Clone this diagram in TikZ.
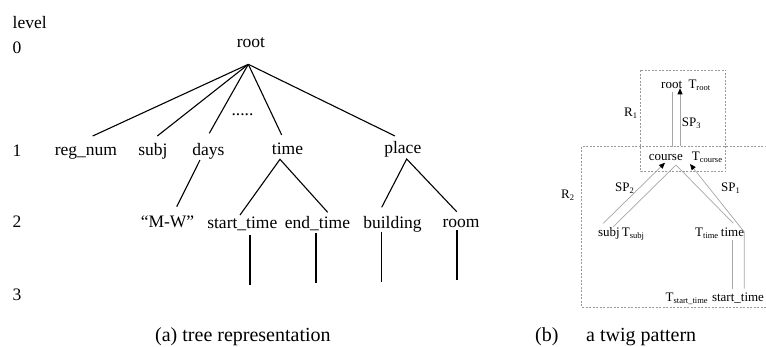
\documentclass[tikz,border=0pt]{standalone}
\usepackage{fontspec}
\setmainfont{Liberation Serif}
\usetikzlibrary{arrows.meta}
\newcommand{\sbs}[1]{\raisebox{-0.35ex}{\fontsize{8.5}{9}\selectfont #1}}
\begin{document}
\begin{tikzpicture}[x=1pt,y=-1pt,
  lbl/.style={inner sep=0pt,anchor=base,font=\fontsize{17.5}{20}\selectfont},
  lvl/.style={inner sep=0pt,anchor=base west,font=\fontsize{17.5}{20}\selectfont},
  captxt/.style={inner sep=0pt,anchor=base west,font=\fontsize{20}{24}\selectfont},
  tw/.style={inner sep=0pt,anchor=base,font=\fontsize{13}{15}\selectfont},
  tww/.style={tw,anchor=base west},
  tedge/.style={line width=1.1pt},
  tl/.style={draw=gray!70,line width=0.7pt},
  ta/.style={tl,-{Triangle[length=6pt,width=5pt,color=black]}},
  region/.style={draw=gray!80,line width=0.6pt,dash pattern=on 2pt off 1.5pt}]
\useasboundingbox (0,0) rectangle (766,346);
% level labels
\node[lvl] (lv) at (12.5,28) {level};
\node[lvl] (l0) at (12.5,53) {0};
\node[lvl] (l1) at (12.5,156) {1};
\node[lvl] (l2) at (12.5,227) {2};
\node[lvl] (l3) at (12.5,300) {3};
% tree labels
\node[lbl] (root) at (251,47) {root};
\node[lbl] (regnum) at (86,155) {reg\_num};
\node[lbl] (subj) at (153,155) {subj};
\node[lbl] (days) at (208.3,155) {days};
\node[lbl] (time) at (287.5,154) {time};
\node[lbl] (place) at (402.8,153) {place};
\node[lbl] (dots) at (242.5,115) {.....};
\node[lbl] (mw) at (167.5,227) {``M-W''};
\node[lbl] (start) at (242.3,228) {start\_time};
\node[lbl] (end) at (317.5,228) {end\_time};
\node[lbl] (bldg) at (392.5,228) {building};
\node[lbl] (room) at (461,227) {room};
% tree edges
\coordinate (rA) at (248.3,64.3);
\coordinate (e1) at (92.7,136);
\coordinate (e2) at (157.3,136);
\coordinate (e3) at (209.3,133.3);
\coordinate (e4) at (281.7,135);
\coordinate (e5) at (395,136);
\foreach \e in {e1,e2,e3,e4,e5} \draw[tedge] (rA) -- (\e);
\coordinate (dA) at (200,160);
\coordinate (dB) at (176.7,206.7);
\draw[tedge] (dA) -- (dB);
\coordinate (tA) at (280,159.3);
\coordinate (tB) at (240,215);
\coordinate (tC) at (327.7,212.3);
\draw[tedge] (tB) -- (tA) -- (tC);
\coordinate (pA) at (406.7,159);
\coordinate (pB) at (381.7,207.3);
\coordinate (pC) at (456.7,211.7);
\draw[tedge] (pB) -- (pA) -- (pC);
\coordinate (v1a) at (250,235);   \coordinate (v1b) at (250,285);
\coordinate (v2a) at (316,233);   \coordinate (v2b) at (316,283);
\coordinate (v3a) at (381.7,232); \coordinate (v3b) at (381.7,282);
\coordinate (v4a) at (457,230);   \coordinate (v4b) at (457,280);
\draw[tedge] (v1a) -- (v1b);
\draw[tedge] (v2a) -- (v2b);
\draw[tedge] (v3a) -- (v3b);
\draw[tedge] (v4a) -- (v4b);
% captions
\node[captxt] (capa) at (155,341) {(a) tree representation};
\node[captxt] (capb) at (535,341) {(b)};
\node[captxt] (capb2) at (586,341) {a twig pattern};
% twig pattern regions
\draw[region] (640.7,70) rectangle (725.7,171.7);
\draw[region] (770,146) -- (581.7,146) -- (581.7,307) -- (770,307);
% twig texts
\node[tw] (troot) at (671.7,88.3) {root};
\node[tww] (Troot) at (688.3,88.3) {T\sbs{root}};
\node[tww] (R1) at (624,116.7) {R\sbs{1}};
\node[tww] (sp3) at (681.7,126.7) {SP\sbs{3}};
\node[tw] (course) at (665.8,160) {course};
\node[tww] (Tcourse) at (691.7,160) {T\sbs{course}};
\node[tww] (R2) at (561,198) {R\sbs{2}};
\node[tww] (sp2) at (615,191.7) {SP\sbs{2}};
\node[tww] (sp1) at (721,191.7) {SP\sbs{1}};
\node[tw] (tsubj) at (609,236.7) {subj};
\node[tww] (Tsubj) at (621.7,236.7) {T\sbs{subj}};
\node[tww] (Ttime) at (695,236.7) {T\sbs{time}};
\node[tw] (ttime) at (732.5,236.7) {time};
\node[tww] (Tst) at (665.5,301) {T\sbs{start\_time}};
\node[tw] (tst) at (738,301) {start\_time};
% twig lines
\coordinate (c1) at (672.7,92);
\coordinate (c2) at (672.7,147);
\draw[tl] (c1) -- (c2);
\coordinate (s3a) at (680,146);
\coordinate (s3b) at (680,88.3);
\draw[ta] (s3a) -- (s3b);
\coordinate (cA) at (676,165);
\coordinate (cS) at (613.3,226.7);
\coordinate (cT) at (733.3,223.3);
\draw[tl] (cS) -- (cA) -- (cT);
\coordinate (s2a) at (603.3,223.3);
\coordinate (s2b) at (665,162.7);
\draw[ta] (s2a) -- (s2b);
\coordinate (s1a) at (744.3,288.5);
\coordinate (s1m) at (744.3,232);
\coordinate (s1b) at (690,164);
\draw[ta] (s1a) -- (s1m) -- (s1b);
\coordinate (ts1) at (732.3,240);
\coordinate (ts2) at (732.3,288.5);
\draw[tl] (ts1) -- (ts2);
\end{tikzpicture}
\end{document}
